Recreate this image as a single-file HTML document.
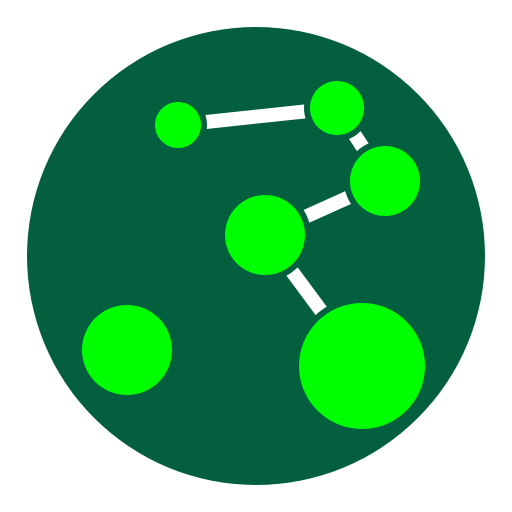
<!DOCTYPE html>
<html><head><meta charset="utf-8"><style>
html,body{margin:0;padding:0;background:#fff;width:512px;height:512px;overflow:hidden}
</style></head><body>
<svg id="chart" width="512" height="512" viewBox="0 0 512 512" xmlns="http://www.w3.org/2000/svg">
<circle cx="256" cy="256" r="229" fill="#045f3f"/>
<g id="edges"></g><g id="nodes"></g>
</svg>
<script>
const nodeX = [178, 337, 385, 265, 127, 362];
const nodeY = [125, 108, 181, 235, 350, 366];
const nodeR = [23, 27, 35, 40, 45, 63];
const linkFrom = [0, 1, 2, 3];
const linkTo = [1, 2, 3, 5];
const NS = "http://www.w3.org/2000/svg";
const eg = document.getElementById('edges'), ng = document.getElementById('nodes');
for (let i = 0; i < linkFrom.length; i++) {
  const a = linkFrom[i], b = linkTo[i];
  const l = document.createElementNS(NS, 'line');
  l.setAttribute('x1', nodeX[a]); l.setAttribute('y1', nodeY[a]);
  l.setAttribute('x2', nodeX[b]); l.setAttribute('y2', nodeY[b]);
  l.setAttribute('stroke', '#ffffff'); l.setAttribute('stroke-width', 14);
  
  
  eg.appendChild(l);
}
for (let i = 0; i < nodeX.length; i++) {
  const c = document.createElementNS(NS, 'circle');
  c.setAttribute('cx', nodeX[i]); c.setAttribute('cy', nodeY[i]); c.setAttribute('r', nodeR[i]);
  c.setAttribute('fill', '#00ff00'); c.setAttribute('stroke', '#045f3f'); c.setAttribute('stroke-width', 12);
  c.setAttribute('paint-order', 'stroke');
  
  
  ng.appendChild(c);
}
</script>
</body></html>
